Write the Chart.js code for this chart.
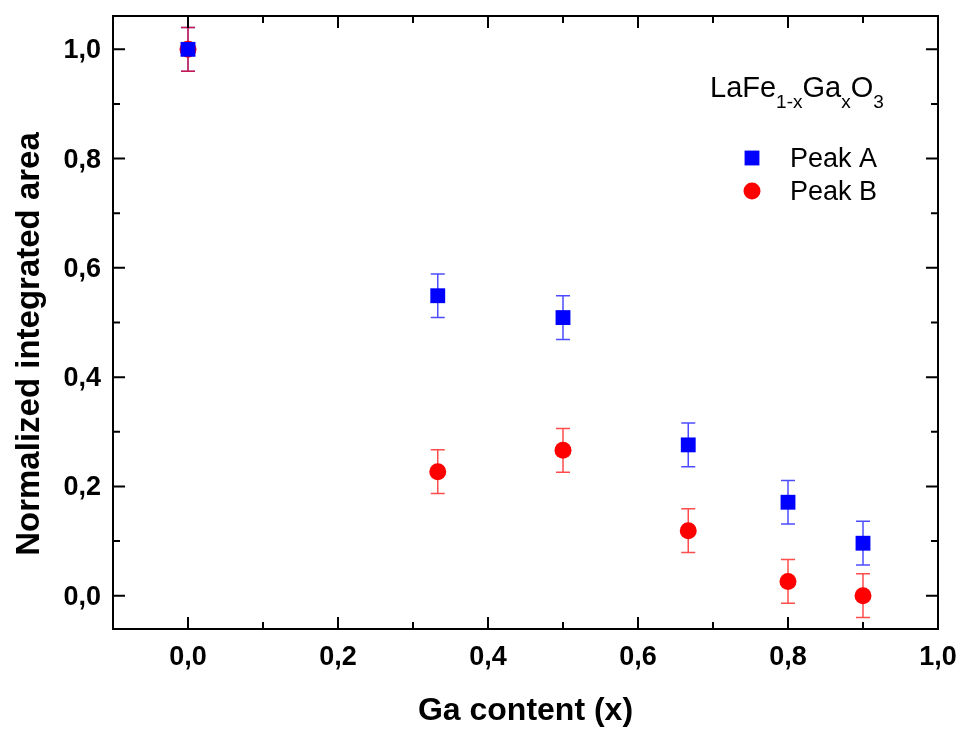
<!DOCTYPE html>
<html lang="en">
<head>
  <meta charset="UTF-8">
  <title>Normalized integrated area vs Ga content</title>
  <style>
    * { margin: 0; padding: 0; box-sizing: border-box; }
    body { background: #fff; width: 964px; height: 729px; overflow: hidden; }
    .wrap { width: 964px; height: 729px; position: relative; }
  </style>
</head>
<body>
  <div class="wrap">
    <canvas id="areaChart" width="964" height="729"></canvas>
  </div>

  <script src="https://cdn.jsdelivr.net/npm/chart.js"></script>
  <script>
    // data
    const gaContent = [0, 0.333, 0.5, 0.667, 0.8, 0.9];
    const peakA = [1.0, 0.549, 0.509, 0.276, 0.171, 0.096];
    const peakB = [1.0, 0.227, 0.266, 0.119, 0.026, 0.0];
    const errA = [0.04, 0.04, 0.04, 0.04, 0.04, 0.04];
    const errB = [0.04, 0.04, 0.04, 0.04, 0.04, 0.04];

    // axis ticks
    const xMajorTicks = [0, 0.2, 0.4, 0.6, 0.8, 1.0];
    const xMinorTicks = [0.1, 0.3, 0.5, 0.7, 0.9];
    const yMajorTicks = [0, 0.2, 0.4, 0.6, 0.8, 1.0];
    const yMinorTicks = [0.1, 0.3, 0.5, 0.7, 0.9];

    const FONT = "'Liberation Sans', Arial, sans-serif";

    function fmt(v) {
      return v.toFixed(1).replace('.', ',');
    }

    function toPoints(ys) {
      return gaContent.map((x, i) => ({ x: x, y: ys[i] }));
    }

    // error bars, drawn under the markers
    const errorBars = {
      id: 'errorBars',
      beforeDatasetsDraw(chart) {
        const ctx = chart.ctx;
        const yScale = chart.scales.y;
        chart.data.datasets.forEach((ds, di) => {
          const meta = chart.getDatasetMeta(di);
          ctx.save();
          ctx.strokeStyle = ds.errorColor;
          ctx.lineWidth = 1.5;
          meta.data.forEach((pt, i) => {
            const v = ds.data[i].y;
            const e = ds.errors[i];
            const yTop = yScale.getPixelForValue(v + e);
            const yBot = yScale.getPixelForValue(v - e);
            ctx.beginPath();
            ctx.moveTo(pt.x, yTop);
            ctx.lineTo(pt.x, yBot);
            ctx.moveTo(pt.x - 7, yTop);
            ctx.lineTo(pt.x + 7, yTop);
            ctx.moveTo(pt.x - 7, yBot);
            ctx.lineTo(pt.x + 7, yBot);
            ctx.stroke();
          });
          ctx.restore();
        });
      }
    };

    // frame, inward ticks, labels, titles and legend
    const frame = {
      id: 'frame',
      afterDraw(chart) {
        const ctx = chart.ctx;
        const a = chart.chartArea;
        const xs = chart.scales.x;
        const ys = chart.scales.y;
        ctx.save();
        ctx.strokeStyle = '#000';
        ctx.lineWidth = 2;
        ctx.strokeRect(a.left, a.top, a.right - a.left, a.bottom - a.top);

        ctx.beginPath();
        const xt = (v, len) => {
          const px = xs.getPixelForValue(v);
          ctx.moveTo(px, a.bottom); ctx.lineTo(px, a.bottom - len);
          ctx.moveTo(px, a.top); ctx.lineTo(px, a.top + len);
        };
        const yt = (v, len) => {
          const py = ys.getPixelForValue(v);
          ctx.moveTo(a.left, py); ctx.lineTo(a.left + len, py);
          ctx.moveTo(a.right, py); ctx.lineTo(a.right - len, py);
        };
        xMajorTicks.forEach(v => xt(v, 12));
        xMinorTicks.forEach(v => xt(v, 7));
        yMajorTicks.forEach(v => yt(v, 12));
        yMinorTicks.forEach(v => yt(v, 7));
        ctx.stroke();

        // tick labels
        ctx.fillStyle = '#000';
        ctx.font = 'bold 27px ' + FONT;
        ctx.textBaseline = 'alphabetic';
        ctx.textAlign = 'center';
        xMajorTicks.forEach(v => {
          ctx.fillText(fmt(v), xs.getPixelForValue(v), a.bottom + 36);
        });
        ctx.textAlign = 'right';
        yMajorTicks.forEach(v => {
          ctx.fillText(fmt(v), a.left - 12, ys.getPixelForValue(v) + 9);
        });

        // axis titles
        ctx.font = 'bold 32px ' + FONT;
        ctx.textAlign = 'center';
        ctx.fillText('Ga content (x)', (a.left + a.right) / 2, 720);
        ctx.save();
        ctx.translate(38.5, 344);
        ctx.rotate(-Math.PI / 2);
        ctx.font = 'bold 33px ' + FONT;
        ctx.fillText('Normalized integrated area', 0, 0);
        ctx.restore();

        // compound label with subscripts
        ctx.textAlign = 'left';
        let x = 710;
        const parts = [['LaFe', 0], ['1-x', 1], ['Ga', 0], ['x', 1], ['O', 0], ['3', 1]];
        parts.forEach(p => {
          ctx.font = (p[1] ? '19px ' : '29px ') + FONT;
          ctx.fillText(p[0], x, p[1] ? 108 : 97);
          x += ctx.measureText(p[0]).width;
        });

        // legend
        ctx.font = '27px ' + FONT;
        chart.data.datasets.forEach((ds, i) => {
          const cy = 158 + i * 33;
          ctx.fillStyle = ds.backgroundColor;
          Chart.helpers.drawPoint(ctx, {
            pointStyle: ds.pointStyle,
            radius: ds.pointRadius,
            borderWidth: 0,
            rotation: 0
          }, 752, cy);
          ctx.fillStyle = '#000';
          ctx.fillText(ds.label, 790, cy + 9);
        });
        ctx.restore();
      }
    };

    const chart = new Chart(document.getElementById('areaChart').getContext('2d'), {
      type: 'scatter',
      data: {
        datasets: [
          {
            label: 'Peak A',
            data: toPoints(peakA),
            errors: errA,
            errorColor: 'rgba(0, 0, 255, 0.7)',
            pointStyle: 'rect',
            pointRadius: 10.5,
            pointBorderWidth: 0,
            backgroundColor: '#0000ff',
            borderColor: '#0000ff'
          },
          {
            label: 'Peak B',
            data: toPoints(peakB),
            errors: errB,
            errorColor: 'rgba(255, 0, 0, 0.7)',
            pointStyle: 'circle',
            pointRadius: 8.5,
            pointBorderWidth: 0,
            backgroundColor: '#ff0000',
            borderColor: '#ff0000'
          }
        ]
      },
      options: {
        responsive: false,
        animation: false,
        events: [],
        layout: { padding: { left: 113, right: 26, top: 16, bottom: 100 } },
        plugins: { legend: { display: false }, tooltip: { enabled: false } },
        scales: {
          x: { type: 'linear', display: false, min: -0.1, max: 1.0 },
          y: { type: 'linear', display: false, min: -0.061, max: 1.061 }
        }
      },
      plugins: [errorBars, frame]
    });
  </script>
</body>
</html>
